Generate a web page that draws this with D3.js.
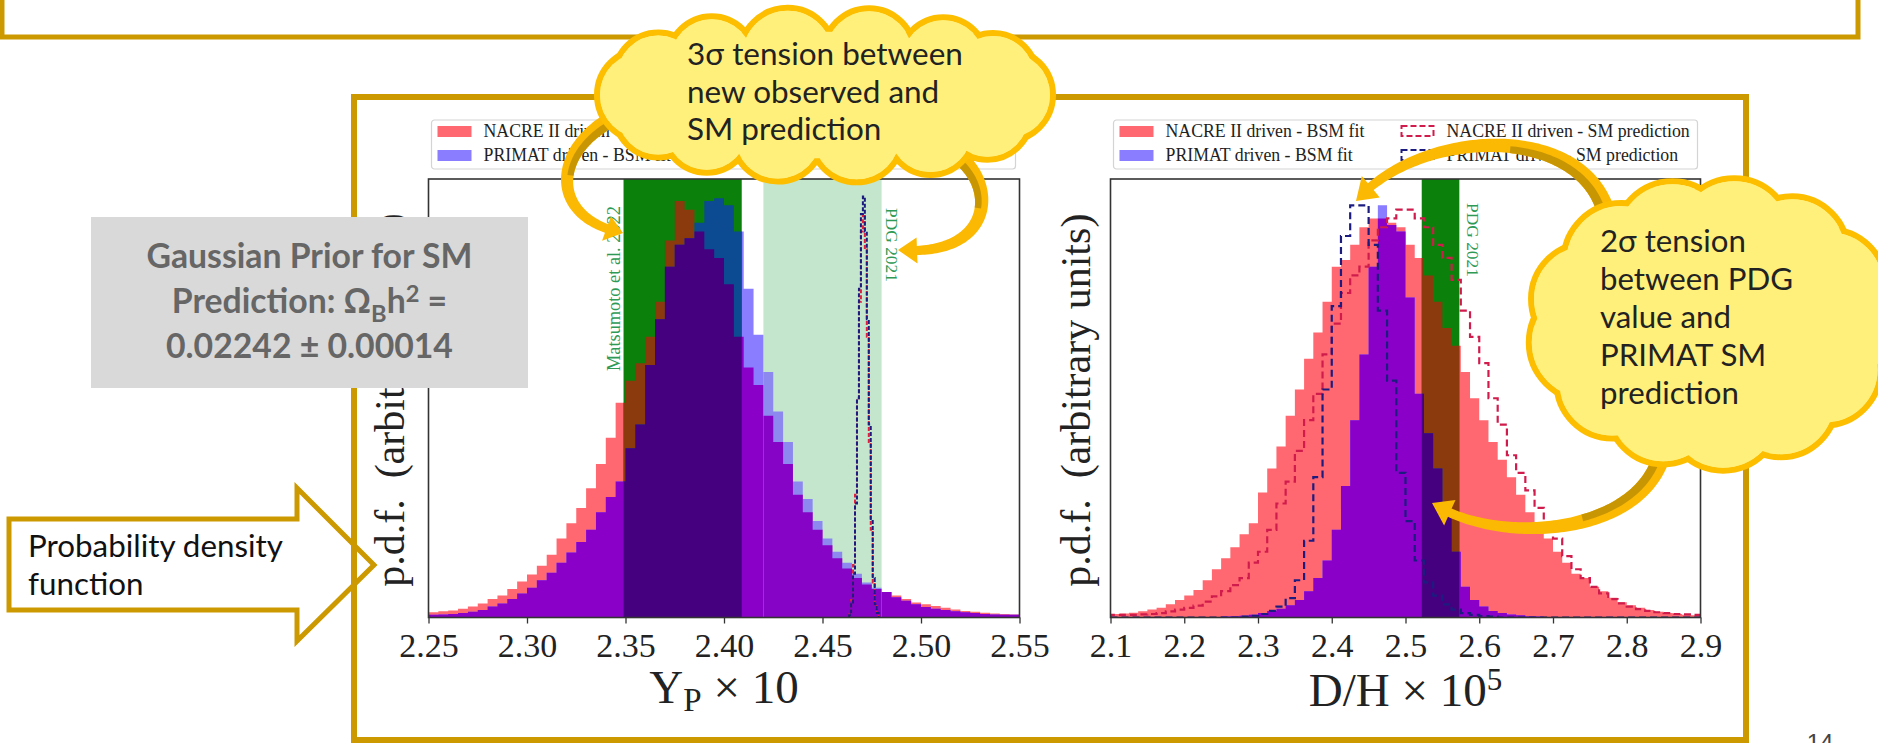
<!DOCTYPE html>
<html><head><meta charset="utf-8">
<script src="https://cdn.jsdelivr.net/npm/d3@7"></script>
<style>
html,body{margin:0;padding:0;background:#fff;overflow:hidden}
svg{display:block}
</style></head><body>
<svg id="c" width="1878" height="743"></svg>
<script>
// ---------------- DATA ----------------
// Left panel: Y_P x 10
const ypTicks = [2.25, 2.30, 2.35, 2.40, 2.45, 2.50, 2.55];
const ypBinStart = 2.25, ypBinWidth = 0.005;
const ypNacreBSM = [0.012,0.014,0.016,0.02,0.025,0.032,0.042,0.05,0.065,0.082,
  0.098,0.118,0.143,0.18,0.215,0.25,0.295,0.35,0.41,0.49,
  0.54,0.58,0.64,0.72,0.86,0.95,0.93,0.88,0.84,0.82,
  0.76,0.64,0.57,0.53,0.46,0.40,0.35,0.28,0.24,0.2,
  0.165,0.135,0.112,0.09,0.075,0.065,0.058,0.05,0.042,0.034,
  0.03,0.026,0.022,0.018,0.015,0.013,0.011,0.009,0.008,0.007];
const ypPrimatBSM = [0.006,0.007,0.008,0.01,0.013,0.017,0.025,0.032,0.042,0.055,
  0.068,0.085,0.102,0.125,0.148,0.172,0.2,0.24,0.275,0.31,
  0.386,0.44,0.576,0.68,0.80,0.85,0.865,0.90,0.95,0.956,
  0.94,0.88,0.75,0.645,0.56,0.47,0.40,0.31,0.27,0.22,
  0.18,0.15,0.125,0.1,0.08,0.068,0.058,0.046,0.038,0.03,
  0.024,0.02,0.017,0.014,0.012,0.01,0.008,0.007,0.006,0.006];
const ypSmStart = 2.4635, ypSmWidth = 0.001;
const ypNacreSM  = [0.01,0.04,0.12,0.28,0.5,0.72,0.88,0.92,0.84,0.64,0.4,0.2,0.08,0.03,0.01];
const ypPrimatSM = [0.005,0.03,0.1,0.26,0.5,0.75,0.92,0.96,0.88,0.68,0.44,0.22,0.09,0.03,0.01];
const matsumotoBand = [2.349, 2.409];
const pdgYpBand = [2.42, 2.48];

// Right panel: D/H x 1e5
const dhTicks = [2.1, 2.2, 2.3, 2.4, 2.5, 2.6, 2.7, 2.8, 2.9];
const dhBinStart = 2.1, dhBinWidth = 0.0125;
const dhNacreBSM = [0.008,0.009,0.011,0.014,0.018,0.022,0.03,0.04,0.05,0.063,
  0.085,0.11,0.135,0.16,0.19,0.215,0.285,0.34,0.39,0.46,
  0.52,0.59,0.65,0.72,0.80,0.815,0.85,0.89,0.91,0.91,
  0.9,0.89,0.85,0.82,0.78,0.72,0.66,0.62,0.56,0.50,
  0.45,0.40,0.36,0.32,0.28,0.24,0.2,0.18,0.15,0.125,
  0.1,0.09,0.07,0.06,0.045,0.035,0.028,0.022,0.017,0.013,
  0.01,0.008,0.006,0.005];
const dhPrimatBSM = [0,0,0,0,0,0,0,0,0,0,
  0,0,0.002,0.003,0.004,0.006,0.01,0.015,0.02,0.028,
  0.04,0.06,0.09,0.13,0.2,0.3,0.45,0.6,0.8,0.94,
  0.895,0.88,0.73,0.51,0.42,0.34,0.25,0.15,0.07,0.04,
  0.025,0.015,0.01,0.007,0.005,0.003,0.002,0.001,0.001,0.001,
  0.001,0.001,0.001,0.001,0.001,0.001,0.001,0.001,0.001,0.001,
  0.001,0.001,0.001,0.001];
const dhNacreSM = [0.006,0.006,0.006,0.007,0.008,0.01,0.014,0.018,0.022,0.027,
  0.036,0.048,0.06,0.074,0.09,0.125,0.15,0.2,0.26,0.31,
  0.38,0.45,0.51,0.6,0.67,0.74,0.78,0.8,0.86,0.89,
  0.91,0.93,0.93,0.91,0.89,0.85,0.82,0.77,0.70,0.64,
  0.58,0.5,0.44,0.37,0.33,0.29,0.25,0.21,0.18,0.14,
  0.11,0.09,0.07,0.055,0.042,0.032,0.025,0.019,0.015,0.012,
  0.01,0.008,0.007,0.006];
const dhPrimatSM = [0,0,0,0,0,0,0,0,0,0,
  0,0,0,0,0.002,0.004,0.008,0.015,0.025,0.044,
  0.085,0.175,0.32,0.52,0.71,0.87,0.94,0.94,0.85,0.7,
  0.54,0.33,0.22,0.13,0.08,0.05,0.03,0.018,0.01,0.006,
  0.003,0.002,0,0,0,0,0,0,0,0,
  0,0,0,0,0,0,0,0,0,0,
  0,0,0,0];
const pdgDhBand = [2.522, 2.573];

const legendLabels = ["NACRE II driven - BSM fit", "PRIMAT driven - BSM fit",
                      "NACRE II driven - SM prediction", "PRIMAT driven - SM prediction"];

// ---------------- STYLE ----------------
const GOLD = "#cc9900";
const colWhite = {a:"#ff6870", b:"#8b7dff", ab:"#8a00c8"};
const colDark  = {a:"#8b3a0e", b:"#0c4a92", ab:"#44007e"};
const colLight = {a:"#f07a80", b:"#8c88f0", ab:"#8604c6"};
const CRIMSON = "#d01c4c", NAVY = "#1c1c80";
const SERIF = "'Liberation Serif','Times New Roman',serif";
const SANS = "Lato,'Open Sans',sans-serif";

const svg = d3.select("#c");
const defs = svg.append("defs");

function fitWidth(sel, target) {
  const len = sel.node().getComputedTextLength();
  const fs = parseFloat(sel.attr("font-size"));
  const nf = fs * target / len;
  sel.attr("font-size", nf);
  return nf;
}

// top box
svg.append("rect").attr("x", 2).attr("y", -20).attr("width", 1856).attr("height", 57)
  .attr("fill", "none").attr("stroke", GOLD).attr("stroke-width", 5);

// arrow box "Probability density function"
svg.append("path")
  .attr("d", d3.line()([[9,519],[297,519],[297,488],[374,565],[297,641],[297,610],[9,610]]) + "Z")
  .attr("fill", "#fff").attr("stroke", GOLD).attr("stroke-width", 5).attr("stroke-linejoin","miter");

// frame
svg.append("rect").attr("x", 354).attr("y", 97).attr("width", 1392).attr("height", 643)
  .attr("fill", "none").attr("stroke", GOLD).attr("stroke-width", 6);

const pdfT1 = svg.append("text").attr("x", 28).attr("y", 557).attr("font-family", SANS)
  .attr("font-size", 26).attr("fill", "#111").text("Probability density");
const pdfFs = fitWidth(pdfT1, 255);
svg.append("text").attr("x", 28).attr("y", 595).attr("font-family", SANS)
  .attr("font-size", pdfFs).attr("fill", "#111").text("function");

// ---------------- PANELS ----------------
function histPts(start, width, vals) {
  const p = vals.map((v, i) => [start + i * width, v]);
  p.push([start + vals.length * width, vals[vals.length - 1]]);
  return p;
}

function drawPanel(o) {
  const g = svg.append("g");
  const x = d3.scaleLinear().domain(o.domain).range([o.x0, o.x1]);
  const y = d3.scaleLinear().domain([0, 1]).range([o.yb, o.yt]);
  const area = d3.area().x(d => x(d[0])).y0(y(0)).y1(d => y(d[1])).curve(d3.curveStepAfter);
  const line = d3.line().x(d => x(d[0])).y(d => y(d[1])).curve(d3.curveStepAfter);
  const A = histPts(o.binStart, o.binWidth, o.a);
  const B = histPts(o.binStart, o.binWidth, o.b);
  const AB = histPts(o.binStart, o.binWidth, o.a.map((v, i) => Math.min(v, o.b[i])));

  const allId = o.id + "-all";
  defs.append("clipPath").attr("id", allId).append("rect")
    .attr("x", o.x0).attr("y", o.yt).attr("width", o.x1 - o.x0).attr("height", o.yb - o.yt);

  function layer(cid, cols) {
    const L = g.append("g").attr("clip-path", `url(#${cid})`);
    L.append("path").attr("d", area(A)).attr("fill", cols.a);
    L.append("path").attr("d", area(B)).attr("fill", cols.b);
    L.append("path").attr("d", area(AB)).attr("fill", cols.ab);
  }
  layer(allId, colWhite);
  o.bands.forEach((b, k) => {
    const cid = o.id + "-band" + k;
    defs.append("clipPath").attr("id", cid).append("rect")
      .attr("x", x(b.range[0])).attr("y", o.yt).attr("width", x(b.range[1]) - x(b.range[0])).attr("height", o.yb - o.yt);
    g.append("rect").attr("x", x(b.range[0])).attr("y", o.yt)
      .attr("width", x(b.range[1]) - x(b.range[0])).attr("height", o.yb - o.yt).attr("fill", b.fill);
    layer(cid, b.cols);
  });

  // SM step lines
  const smG = g.append("g").attr("clip-path", `url(#${allId})`);
  o.sm.forEach(s => {
    const p = histPts(s.start, s.width, s.vals);
    const pts = [[s.start, 0], ...p, [s.start + s.vals.length * s.width, 0]];
    smG.append("path").attr("d", line(pts)).attr("fill", "none").attr("stroke", s.color)
      .attr("stroke-width", s.sw).attr("stroke-dasharray", s.dash);
  });

  // band labels
  o.labels.forEach(l => {
    const t = g.append("text").attr("transform", `translate(${l.x},${l.y}) rotate(${l.rot})`)
      .attr("font-family", SERIF).attr("font-size", 16).attr("fill", "#2e9a55").text(l.text);
    fitWidth(t, l.len);
  });

  // axes frame
  g.append("rect").attr("x", o.x0).attr("y", o.yt).attr("width", o.x1 - o.x0).attr("height", o.yb - o.yt)
    .attr("fill", "none").attr("stroke", "#333").attr("stroke-width", 1.6);
  const ax = g.append("g").attr("transform", `translate(0,${o.yb})`)
    .call(d3.axisBottom(x).tickValues(o.ticks).tickFormat(d3.format(o.fmt)).tickSize(6).tickPadding(9.5));
  ax.select(".domain").remove();
  ax.selectAll(".tick line").attr("stroke", "#333").attr("stroke-width", 1.3);
  ax.selectAll(".tick text").attr("font-family", SERIF).attr("font-size", 34).attr("fill", "#222");

  // x label
  const xl = g.append("text").attr("x", (o.x0 + o.x1) / 2).attr("y", o.xlabelY).attr("text-anchor", "middle")
    .attr("font-family", SERIF).attr("font-size", 47).attr("fill", "#222");
  o.xlabel(xl);
  // y label
  g.append("text").attr("transform", `translate(${o.ylabelX},${(o.yt + o.yb) / 2 + 2}) rotate(-90)`)
    .attr("text-anchor", "middle").attr("dominant-baseline", "central")
    .attr("font-family", SERIF).attr("font-size", 42).attr("fill", "#222")
    .text("p.d.f.\u2002(arbitrary units)");

  // legend
  const lg = g.append("g").attr("transform", `translate(${o.legX},120)`);
  lg.append("rect").attr("x", 0).attr("y", 0).attr("width", 584).attr("height", 49).attr("rx", 3)
    .attr("fill", "#fff").attr("stroke", "#d4d4d4").attr("stroke-width", 1.2);
  const items = [
    {c: 0, r: 0, t: legendLabels[0], fill: colWhite.a},
    {c: 0, r: 1, t: legendLabels[1], fill: colWhite.b},
    {c: 1, r: 0, t: legendLabels[2], dash: CRIMSON},
    {c: 1, r: 1, t: legendLabels[3], dash: NAVY}];
  let lfs = null;
  items.forEach(it => {
    const px = it.c ? 287 : 6, ty = it.r ? 41 : 17;
    if (it.fill) lg.append("rect").attr("x", px).attr("y", ty - 11).attr("width", 34).attr("height", 11).attr("fill", it.fill);
    else lg.append("rect").attr("x", px + 1).attr("y", ty - 11).attr("width", 32).attr("height", 10)
      .attr("fill", "none").attr("stroke", it.dash).attr("stroke-width", 2).attr("stroke-dasharray", "6,3");
    const t = lg.append("text").attr("x", px + 46).attr("y", ty).attr("font-family", SERIF)
      .attr("font-size", lfs || 17).attr("fill", "#222").text(it.t);
    if (!lfs) lfs = fitWidth(t, 199);
  });
}

drawPanel({
  id: "yp", domain: [2.25, 2.55], x0: 428.5, x1: 1019.5, yt: 179, yb: 617.5,
  binStart: ypBinStart, binWidth: ypBinWidth, a: ypNacreBSM, b: ypPrimatBSM,
  bands: [{range: matsumotoBand, fill: "#0b800b", cols: colDark},
          {range: pdgYpBand, fill: "#c3e6cd", cols: colLight}],
  sm: [{start: ypSmStart, width: ypSmWidth, vals: ypNacreSM, color: "#e0203c", sw: 2, dash: "4,2"},
       {start: ypSmStart, width: ypSmWidth, vals: ypPrimatSM, color: NAVY, sw: 2, dash: "4,2"}],
  labels: [{text: "Matsumoto et al. 2022", x: 620, y: 371, rot: -90, len: 165},
           {text: "PDG 2021", x: 886, y: 208, rot: 90, len: 74}],
  ticks: ypTicks, fmt: ".2f", xlabelY: 703, ylabelX: 390, legX: 431.5,
  xlabel: t => { t.append("tspan").text("Y");
    t.append("tspan").attr("font-size", 33).attr("dy", 8).text("P");
    t.append("tspan").attr("dy", -8).text(" \u00d7 10"); }
});

drawPanel({
  id: "dh", domain: [2.1, 2.9], x0: 1110.5, x1: 1700.5, yt: 179, yb: 617.5,
  binStart: dhBinStart, binWidth: dhBinWidth, a: dhNacreBSM, b: dhPrimatBSM,
  bands: [{range: pdgDhBand, fill: "#0b800b", cols: colDark}],
  sm: [{start: dhBinStart, width: dhBinWidth, vals: dhNacreSM, color: CRIMSON, sw: 2.2, dash: "7,4"},
       {start: dhBinStart, width: dhBinWidth, vals: dhPrimatSM, color: NAVY, sw: 2.2, dash: "7,4"}],
  labels: [{text: "PDG 2021", x: 1467, y: 203, rot: 90, len: 74}],
  ticks: dhTicks, fmt: ".1f", xlabelY: 706, ylabelX: 1076, legX: 1113.5,
  xlabel: t => { t.append("tspan").text("D/H \u00d7 10");
    t.append("tspan").attr("font-size", 31).attr("dy", -16).text("5"); }
});

// ---------------- GRAY BOX ----------------
svg.append("rect").attr("x", 91).attr("y", 217).attr("width", 437).attr("height", 171).attr("fill", "#d9d9d9");
const gb1 = svg.append("text").attr("x", 309.5).attr("y", 268).attr("text-anchor", "middle")
  .attr("font-family", SANS).attr("font-weight", 700).attr("font-size", 28).attr("fill", "#666")
  .text("Gaussian Prior for SM");
const gfs = fitWidth(gb1, 326);
const gb2 = svg.append("text").attr("x", 309.5).attr("y", 313).attr("text-anchor", "middle")
  .attr("font-family", SANS).attr("font-weight", 700).attr("font-size", gfs).attr("fill", "#666");
gb2.append("tspan").text("Prediction: \u03a9");
gb2.append("tspan").attr("font-size", gfs * 0.7).attr("dy", 9).text("B");
gb2.append("tspan").attr("dy", -9).text("h");
gb2.append("tspan").attr("font-size", gfs * 0.7).attr("dy", -11).text("2");
gb2.append("tspan").attr("dy", 11).text(" =");
svg.append("text").attr("x", 309.5).attr("y", 358).attr("text-anchor", "middle")
  .attr("font-family", SANS).attr("font-weight", 700).attr("font-size", gfs).attr("fill", "#666")
  .text("0.02242 \u00b1 0.00014");

// ---------------- CURVED ARROWS ----------------
function cubicPt(P, t) {
  const m = 1 - t;
  return [m*m*m*P[0][0] + 3*m*m*t*P[1][0] + 3*m*t*t*P[2][0] + t*t*t*P[3][0],
          m*m*m*P[0][1] + 3*m*m*t*P[1][1] + 3*m*t*t*P[2][1] + t*t*t*P[3][1]];
}
function curvedArrow(P, w0, w1, headLen, headW, shadeSide) {
  const N = 100, pts = [cubicPt(P, 0)], cum = [0];
  let L = 0;
  for (let i = 1; i <= N; i++) {
    const q = cubicPt(P, i / N), pr = pts[i - 1];
    L += Math.hypot(q[0] - pr[0], q[1] - pr[1]); cum.push(L); pts.push(q);
  }
  let k = N; while (k > 0 && L - cum[k] < headLen) k--;
  const left = [], right = [], cen = [];
  const normal = i => {
    const a = pts[Math.max(0, i - 1)], b = pts[Math.min(N, i + 1)];
    let tx = b[0] - a[0], ty = b[1] - a[1]; const tl = Math.hypot(tx, ty);
    return [-ty / tl, tx / tl];
  };
  for (let i = 0; i <= k; i++) {
    const n = normal(i), w = (w0 + (w1 - w0) * cum[i] / cum[k]) / 2;
    left.push([pts[i][0] + n[0] * w, pts[i][1] + n[1] * w]);
    right.push([pts[i][0] - n[0] * w, pts[i][1] - n[1] * w]);
    cen.push(pts[i]);
  }
  const n = normal(k);
  const hl = [pts[k][0] + n[0] * headW / 2, pts[k][1] + n[1] * headW / 2];
  const hr = [pts[k][0] - n[0] * headW / 2, pts[k][1] - n[1] * headW / 2];
  const poly = [...left, hl, pts[N], hr, ...right.slice().reverse()];
  svg.append("path").attr("d", d3.line()(poly) + "Z").attr("fill", "#fbb904");
  const m = Math.floor(k * 0.5);
  const side = shadeSide > 0 ? left : right;
  const shade = [...side.slice(0, m), ...cen.slice(0, m).reverse()];
  svg.append("path").attr("d", d3.line()(shade) + "Z").attr("fill", "#c99603");
}
curvedArrow([[614,118],[552,150],[548,218],[623,233]], 16, 9, 17, 26, -1);
curvedArrow([[952,152],[1000,182],[995,258],[898,250]], 16, 9, 17, 26, 1);
curvedArrow([[1606,212],[1580,122],[1420,128],[1356,201]], 18, 9, 18, 28, -1);
curvedArrow([[1664,444],[1652,535],[1500,548],[1432,503]], 18, 9, 18, 28, 1);

// ---------------- CLOUDS ----------------
function drawCloud(cx, cy, rx, ry, bumps) {
  const g = svg.append("g");
  const cs = bumps.map(([a, r]) => { const t = a * Math.PI / 180;
    return {x: cx + (rx - r) * Math.cos(t), y: cy + (ry - r) * Math.sin(t), r}; });
  g.selectAll("circle.o").data(cs).join("circle").attr("class", "o")
    .attr("cx", d => d.x).attr("cy", d => d.y).attr("r", d => d.r)
    .attr("fill", "#fff07c").attr("stroke", "#fdbe00").attr("stroke-width", 6);
  g.selectAll("circle.i").data(cs).join("circle").attr("class", "i")
    .attr("cx", d => d.x).attr("cy", d => d.y).attr("r", d => d.r - 3).attr("fill", "#fff07c");
  g.append("ellipse").attr("cx", cx).attr("cy", cy).attr("rx", rx * 0.8).attr("ry", ry * 0.72).attr("fill", "#fff07c");
}
drawCloud(825, 95, 228, 88, [[0,46],[28,44],[55,44],[80,46],[105,46],[130,44],[155,44],[180,46],
  [205,44],[232,44],[258,48],[284,46],[310,44],[336,44]]);
drawCloud(1712, 324, 186, 147, [[0,58],[30,56],[58,56],[85,58],[112,56],[140,56],[168,58],
  [196,56],[225,58],[252,58],[280,58],[308,56],[335,56]]);

function cloudText(lines, x, y0, dy, anchor, refIdx, refW) {
  const ts = lines.map((s, i) => svg.append("text").attr("x", x).attr("y", y0 + i * dy)
    .attr("text-anchor", anchor).attr("font-family", SANS).attr("font-size", 28).attr("fill", "#222").text(s));
  const fs = fitWidth(ts[refIdx], refW);
  ts.forEach(t => t.attr("font-size", fs));
}
cloudText(["3\u03c3 tension between", "new observed and", "SM prediction"], 687, 65, 37.5, "start", 0, 276);
cloudText(["2\u03c3 tension", "between PDG", "value and", "PRIMAT SM", "prediction"], 1600, 252, 38, "start", 1, 193);

// page number
svg.append("text").attr("x", 1820).attr("y", 751).attr("text-anchor", "middle")
  .attr("font-family", "'Liberation Sans',Arial,sans-serif").attr("font-size", 24).attr("fill", "#444").text("14");
</script>
</body></html>
